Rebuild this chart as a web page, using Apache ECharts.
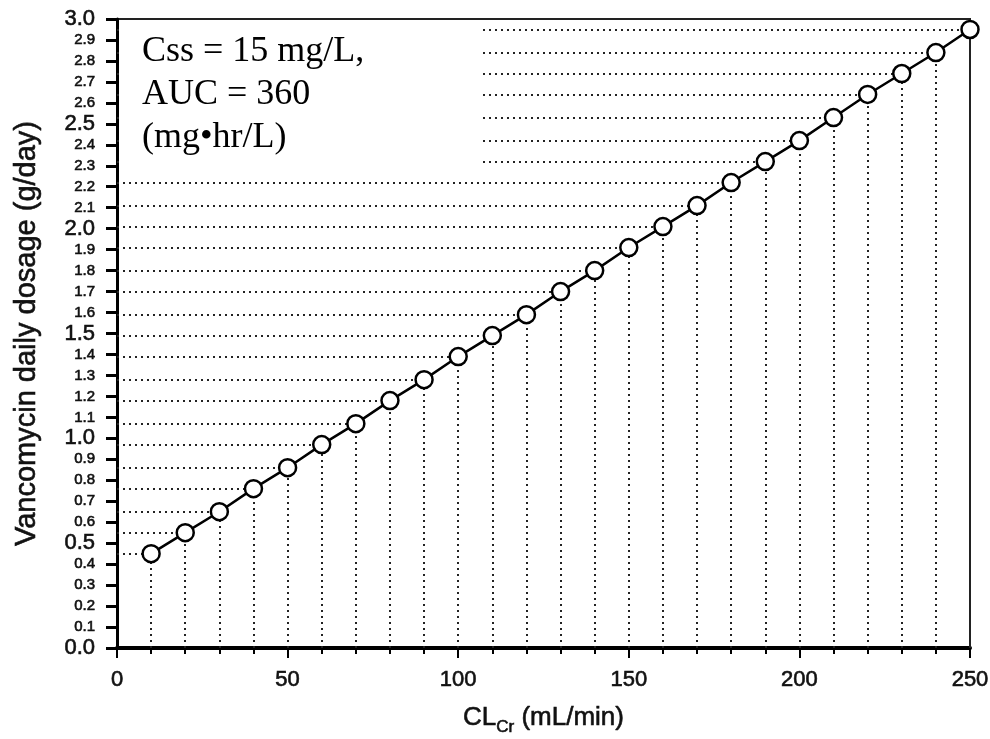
<!DOCTYPE html>
<html>
<head>
<meta charset="utf-8">
<script src="https://cdn.jsdelivr.net/npm/echarts@6/dist/echarts.min.js"></script>
<style>html,body{margin:0;padding:0;background:#fff}#c{width:990px;height:739px}</style>
</head>
<body>
<div id="c"></div>
<script>
var crcl = [10,20,30,40,50,60,70,80,90,100,110,120,130,140,150,160,170,180,190,200,210,220,230,240,250];
var dose = [0.45,0.55,0.65,0.76,0.86,0.97,1.07,1.18,1.28,1.39,1.49,1.59,1.70,1.80,1.91,2.01,2.11,2.22,2.32,2.42,2.53,2.64,2.74,2.84,2.95];
var annotation = ['Css = 15 mg/L,', 'AUC = 360', '(mg\u2022hr/L)'];
var xTitle = 'CL';
var xTitleSub = 'Cr';
var xTitleRest = ' (mL/min)';
var yTitle = 'Vancomycin daily dosage (g/day)';

var pts = crcl.map(function(x,i){return [x, dose[i]];});
var drops = [];
pts.forEach(function(p){
  drops.push([{coord:[0,p[1]]},{coord:[p[0],p[1]]}]);
  drops.push([{coord:[p[0],0]},{coord:[p[0],p[1]]}]);
});

var heavy = {textBorderColor:'#111',textBorderWidth:0.6};

var chart = echarts.init(document.getElementById('c'), null, {renderer:'canvas'});
chart.setOption({
  animation:false,
  backgroundColor:'#fff',
  grid:{left:117,right:20,top:19,bottom:91,outerBoundsMode:'none',containLabel:false,show:true,borderColor:'#222',borderWidth:2,backgroundColor:'transparent'},
  xAxis:{
    type:'value',min:0,max:250,interval:50,
    name:'{a|'+xTitle+'}{s|'+xTitleSub+'}{a|'+xTitleRest+'}',
    nameLocation:'middle',nameGap:57,
    nameTextStyle:{rich:{
      a:Object.assign({fontFamily:'Liberation Sans',fontSize:26,color:'#111',verticalAlign:'top',lineHeight:28},heavy),
      s:Object.assign({fontFamily:'Liberation Sans',fontSize:17,color:'#111',verticalAlign:'top',lineHeight:17,padding:[14,0,0,0]},heavy)
    }},
    axisLine:{show:true,lineStyle:{color:'#000',width:4}},
    axisTick:{show:true,inside:false,length:10,lineStyle:{color:'#000',width:2}},
    minorTick:{show:true,splitNumber:5,length:6,lineStyle:{color:'#000',width:2}},
    axisLabel:Object.assign({margin:21,fontFamily:'Liberation Sans',fontSize:22,color:'#111'},heavy),
    splitLine:{show:false}
  },
  yAxis:{
    type:'value',min:0,max:3,interval:0.1,
    name:yTitle,nameLocation:'middle',nameGap:76,
    nameTextStyle:Object.assign({fontFamily:'Liberation Sans',fontSize:29,color:'#111'},heavy),
    axisLine:{show:true,lineStyle:{color:'#000',width:3}},
    axisTick:{show:true,inside:false,length:11,lineStyle:{color:'#000',width:3}},
    axisLabel:{margin:22,
      formatter:function(v){
        var big = Math.abs(v*2-Math.round(v*2))<1e-6;
        return (big?'{b|':'{s|')+v.toFixed(1)+'}';
      },
      rich:{
        b:Object.assign({fontFamily:'Liberation Sans',fontSize:22,color:'#111'},heavy),
        s:Object.assign({fontFamily:'Liberation Sans',fontSize:15,color:'#111'},heavy)
      }
    },
    splitLine:{show:false}
  },
  series:[
    {
      type:'line',data:pts,z:1,symbol:'none',silent:true,
      lineStyle:{width:0,opacity:0},
      markLine:{
        silent:true,symbol:['none','none'],label:{show:false},animation:false,
        lineStyle:{color:'#222',width:2,type:[2,4]},
        emphasis:{disabled:true},
        data:drops
      }
    },
    {
      type:'line',data:pts,z:5,symbol:'circle',symbolSize:17,
      itemStyle:{color:'#fff',borderColor:'#000',borderWidth:2.5},
      lineStyle:{color:'#000',width:2.5}
    }
  ],
  graphic:[
    {type:'rect',z:50,shape:{x:119,y:21,width:364,height:154},style:{fill:'#fff'}},
    {type:'text',z:51,left:142,top:30,style:{text:annotation.join('\n'),fontFamily:'Liberation Serif',fontSize:36,lineHeight:43,fill:'#000'}}
  ]
});
</script>
</body>
</html>
